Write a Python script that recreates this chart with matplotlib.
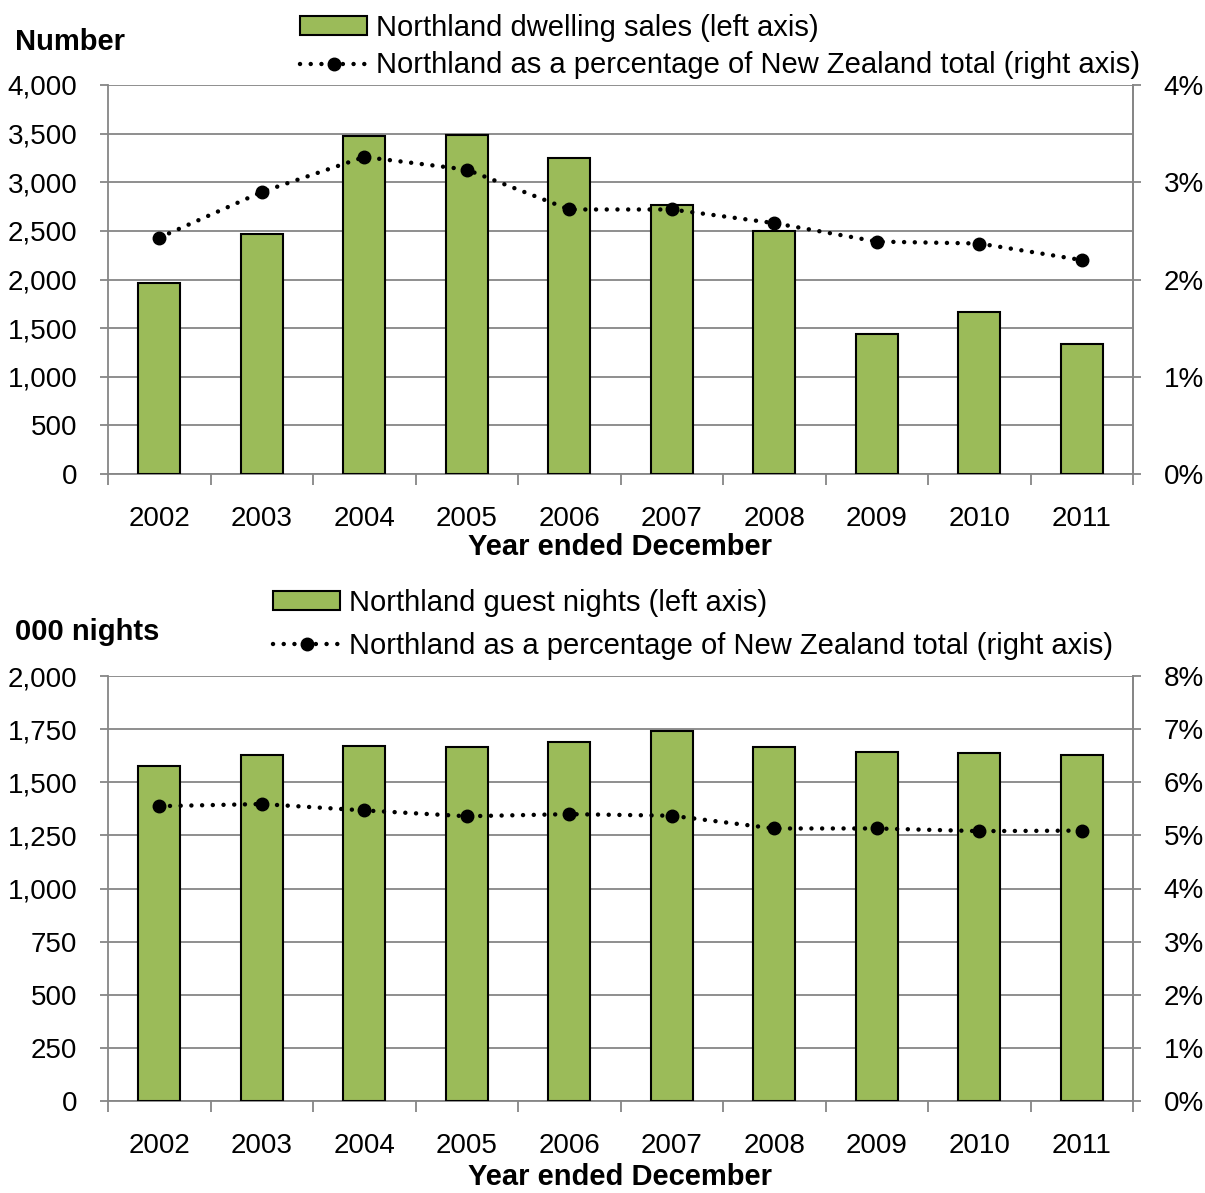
"""
Northland: dwelling sales and guest nights, 2002-2011
"""
import numpy as np
import matplotlib
matplotlib.use("Agg")
import matplotlib.pyplot as plt
from matplotlib.ticker import FuncFormatter, FixedLocator

plt.rcParams['font.family'] = ['Liberation Sans', 'DejaVu Sans']

# данные
years = ['2002', '2003', '2004', '2005', '2006', '2007', '2008', '2009', '2010', '2011']
dwelling_sales = [1967, 2468, 3479, 3489, 3253, 2766, 2499, 1443, 1666, 1337]
dwelling_pct = [2.43, 2.90, 3.26, 3.13, 2.72, 2.72, 2.58, 2.39, 2.37, 2.20]
guest_nights = [1578, 1628, 1670, 1664, 1689, 1741, 1666, 1641, 1639, 1628]
guest_pct = [5.55, 5.59, 5.47, 5.36, 5.40, 5.37, 5.13, 5.13, 5.08, 5.09]

GREEN = '#9BBB59'
GRID = '#868686'
W, H = 1205, 1193
TICK_FS = 20
LEG_FS = 21
BOLD_FS = 21

fig = plt.figure(figsize=(W / 100, H / 100), dpi=100)


def px_axes(left, top, right, bottom):
    """оси по пиксельным координатам картинки"""
    return fig.add_axes([left / W, 1 - bottom / H, (right - left) / W, (bottom - top) / H])


def draw_panel(ax, bars, pct, ymax, ystep, pmax, bar_label, ylabel, ylabel_y,
               legend_x, legend_y, leg_spacing, xlabel_y):
    x = np.arange(len(years))
    ax.bar(x, bars, width=0.41, color=GREEN, edgecolor='black', linewidth=1.5, zorder=3)
    ax.set_xlim(-0.5, len(years) - 0.5)
    ax.set_ylim(0, ymax)
    ax.set_yticks(np.arange(0, ymax + 1, ystep))
    ax.yaxis.set_major_formatter(FuncFormatter(lambda v, p: f'{int(v):,}'))
    ax.grid(axis='y', color=GRID, linewidth=1.3, zorder=0)
    ax.set_axisbelow(True)

    # тики по границам категорий, подписи по центрам
    ax.xaxis.set_major_locator(FixedLocator(np.arange(-0.5, len(years), 1.0)))
    ax.xaxis.set_major_formatter(FuncFormatter(lambda v, p: ''))
    ax.xaxis.set_minor_locator(FixedLocator(x))
    ax.set_xticklabels(years, minor=True)
    ax.tick_params(axis='x', which='major', length=8, width=1.3, color=GRID, direction='out')
    ax.tick_params(axis='x', which='minor', length=0, pad=23, labelsize=TICK_FS)
    ax.tick_params(axis='y', length=6, width=1.3, color=GRID, pad=16, labelsize=TICK_FS)

    ax.spines['top'].set_visible(False)
    for s in ['left', 'right', 'bottom']:
        ax.spines[s].set_color(GRID)
        ax.spines[s].set_linewidth(1.3)

    ax2 = ax.twinx()
    ax2.set_ylim(0, pmax)
    ax2.set_yticks(np.arange(0, pmax + 0.01, 1))
    ax2.yaxis.set_major_formatter(FuncFormatter(lambda v, p: f'{int(round(v))}%'))
    ax2.tick_params(axis='y', length=6, width=1.3, color=GRID, pad=16, labelsize=TICK_FS)
    for s in ['top', 'left', 'bottom']:
        ax2.spines[s].set_visible(False)
    ax2.spines['right'].set_color(GRID)
    ax2.spines['right'].set_linewidth(1.3)
    line, = ax2.plot(x, pct, color='black', linewidth=3.2, linestyle=(0, (0.01, 2.4)),
                     dash_capstyle='round', marker='o', markersize=9, zorder=5)

    bar_handle = plt.Rectangle((0, 0), 1, 1, facecolor=GREEN, edgecolor='black', linewidth=1.5)
    fig.legend([bar_handle, line],
               [bar_label, 'Northland as a percentage of New Zealand total (right axis)'],
               loc='upper left', bbox_to_anchor=(legend_x / W, 1 - legend_y / H),
               frameon=False, fontsize=LEG_FS, handlelength=2.3, handleheight=0.6,
               handletextpad=0.3, labelspacing=leg_spacing, borderpad=0, borderaxespad=0)

    fig.text(15 / W, 1 - ylabel_y / H, ylabel, fontsize=BOLD_FS, fontweight='bold',
             ha='left', va='center')
    fig.text(620 / W, 1 - xlabel_y / H, 'Year ended December', fontsize=BOLD_FS,
             fontweight='bold', ha='center', va='center')
    return ax2


ax_top = px_axes(108, 85, 1133, 474)
draw_panel(ax_top, dwelling_sales, dwelling_pct, 4000, 500, 4,
           'Northland dwelling sales (left axis)', 'Number', 42, 300, 14, 0.32, 547)

ax_bot = px_axes(108, 676, 1133, 1101)
draw_panel(ax_bot, guest_nights, guest_pct, 2000, 250, 8,
           'Northland guest nights (left axis)', '000 nights', 632, 273, 589, 0.52, 1177)

fig.savefig('out.png', dpi=100)
